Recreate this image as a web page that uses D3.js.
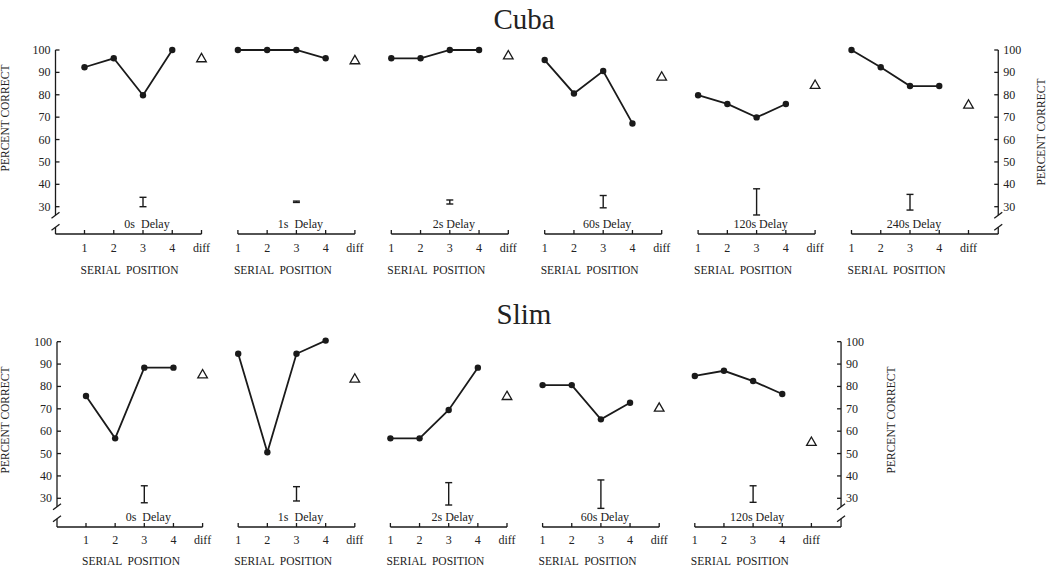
<!DOCTYPE html>
<html>
<head>
<meta charset="utf-8">
<script src="https://cdn.jsdelivr.net/npm/d3@7"></script>
<style>
  html, body { margin: 0; padding: 0; background: #fff; }
  svg { display: block; }
  text { font-family: "Liberation Serif", "Times New Roman", serif; fill: #222; }
</style>
</head>
<body>
<svg id="chart" width="1050" height="566"></svg>
<script>
// ---------------- DATA ----------------
const positions = ["1", "2", "3", "4", "diff"];
const yTicks = [30, 40, 50, 60, 70, 80, 90, 100];

const cubaDelays = ["0s  Delay", "1s  Delay", "2s Delay", "60s Delay", "120s Delay", "240s Delay"];
const cubaValues = [
  [92.3, 96.3, 79.8, 100],
  [100, 100, 100, 96.3],
  [96.3, 96.3, 100, 100],
  [95.5, 80.6, 90.6, 67.2],
  [79.8, 75.9, 69.9, 75.9],
  [100, 92.3, 83.9, 83.9]
];
const cubaDiff = [96.0, 95.1, 97.3, 87.8, 84.1, 75.3];
const cubaErr = [[30, 34.2], [31.9, 32.5], [31.2, 33.0], [29.5, 35.0], [26.3, 38.0], [28.5, 35.5]];

const slimDelays = ["0s  Delay", "1s  Delay", "2s Delay", "60s Delay", "120s Delay"];
const slimValues = [
  [75.7, 56.8, 88.4, 88.4],
  [94.6, 50.6, 94.6, 100.5],
  [56.8, 56.8, 69.5, 88.4],
  [80.6, 80.6, 65.3, 72.7],
  [84.7, 87.0, 82.4, 76.6]
];
const slimDiff = [85.1, 83.2, 75.4, 70.2, 54.9];
const slimErr = [[28.0, 35.6], [28.8, 35.2], [27.0, 37.0], [25.5, 38.2], [28.2, 35.6]];

// ---------------- LAYOUT ----------------
const rows = [
  { title: "Cuba", delays: cubaDelays, values: cubaValues, diff: cubaDiff, err: cubaErr,
    titleY: 29, yTop: 50, yBot: 206.7, axisY: 234, leftX: 55.5, firstTick: 84.5, panelStep: 153.4, tickStep: 29.25,
    labelY: 252, serialY: 274, delayY: 227.5, leftLabelY: 118, rightLabelY: 132, rightLabelX: 1045 },
  { title: "Slim", delays: slimDelays, values: slimValues, diff: slimDiff, err: slimErr,
    titleY: 324, yTop: 341.7, yBot: 498.3, axisY: 527, leftX: 57, firstTick: 86, panelStep: 152.2, tickStep: 29.15,
    labelY: 544, serialY: 565, delayY: 521, leftLabelY: 420, rightLabelY: 420, rightLabelX: 895 }
];

const svg = d3.select("#chart");
const ink = "#1a1a1a";

function breakMarks(g, x, yA, yB) {
  [yA, yB].forEach(yy => {
    g.append("line").attr("x1", x - 4).attr("y1", yy + 3).attr("x2", x + 4).attr("y2", yy - 3)
      .attr("stroke", ink).attr("stroke-width", 1.3);
  });
}

rows.forEach(row => {
  const g = svg.append("g");
  const y = d3.scaleLinear().domain([30, 100]).range([row.yBot, row.yTop]);
  const n = row.values.length;

  // title
  g.append("text").attr("x", 524).attr("y", row.titleY).attr("text-anchor", "middle")
    .style("font-size", "29px").text(row.title);

  const panelX = i => {
    const a = row.firstTick + i * row.panelStep;
    return d3.scalePoint().domain(positions).range([a, a + 4 * row.tickStep]);
  };
  const lastX = panelX(n - 1);
  const rightX = lastX("diff") + row.tickStep + 0.5;

  // y axes (left and right)
  const brkA = y(30) + 8.5, brkB = y(30) + 20.5;
  [[row.leftX, 1], [rightX, -1]].forEach(([ax, dir]) => {
    g.append("line").attr("x1", ax).attr("x2", ax).attr("y1", y(100)).attr("y2", brkA)
      .attr("stroke", ink).attr("stroke-width", 1.3);
    g.append("line").attr("x1", ax).attr("x2", ax).attr("y1", brkB).attr("y2", row.axisY)
      .attr("stroke", ink).attr("stroke-width", 1.3);
    breakMarks(g, ax, brkA, brkB);
    yTicks.forEach(t => {
      g.append("line").attr("x1", ax).attr("x2", ax + dir * 4).attr("y1", y(t)).attr("y2", y(t))
        .attr("stroke", ink).attr("stroke-width", 1.3);
      g.append("text").attr("x", dir > 0 ? ax - 5 : ax + 5).attr("y", y(t) + 4)
        .attr("text-anchor", dir > 0 ? "end" : "start")
        .style("font-size", "12px").text(t);
    });
  });

  // axis labels
  g.append("text").attr("transform", `translate(9,${row.leftLabelY}) rotate(-90)`)
    .attr("text-anchor", "middle").style("font-size", "11.5px").text("PERCENT CORRECT");
  g.append("text").attr("transform", `translate(${row.rightLabelX},${row.rightLabelY}) rotate(-90)`)
    .attr("text-anchor", "middle").style("font-size", "11.5px").text("PERCENT CORRECT");

  for (let i = 0; i < n; i++) {
    const x = panelX(i);
    const pg = g.append("g");
    const startX = i === 0 ? row.leftX : x("1");
    const endX = i === n - 1 ? rightX : x("diff");
    pg.append("line").attr("x1", startX).attr("x2", endX).attr("y1", row.axisY).attr("y2", row.axisY)
      .attr("stroke", ink).attr("stroke-width", 1.3);
    positions.forEach(p => {
      pg.append("line").attr("x1", x(p)).attr("x2", x(p)).attr("y1", row.axisY).attr("y2", row.axisY - 4)
        .attr("stroke", ink).attr("stroke-width", 1.3);
      pg.append("text").attr("x", x(p)).attr("y", row.labelY).attr("text-anchor", "middle")
        .style("font-size", "12px").text(p);
    });
    pg.append("text").attr("x", x("1") - 4).attr("y", row.serialY)
      .style("font-size", "11.5px").style("white-space", "pre")
      .text("SERIAL  POSITION");

    // delay label
    pg.append("text").attr("x", x("3") + 4).attr("y", row.delayY).attr("text-anchor", "middle")
      .style("font-size", "12px").style("white-space", "pre").text(row.delays[i]);

    // error bar
    const [lo, hi] = row.err[i];
    const ex = x("3");
    pg.append("line").attr("x1", ex).attr("x2", ex).attr("y1", y(lo)).attr("y2", y(hi))
      .attr("stroke", ink).attr("stroke-width", 1.4);
    [lo, hi].forEach(v => pg.append("line").attr("x1", ex - 3.5).attr("x2", ex + 3.5)
      .attr("y1", y(v)).attr("y2", y(v)).attr("stroke", ink).attr("stroke-width", 1.4));

    // line + points
    const pts = row.values[i].map((v, k) => [x(positions[k]), y(v)]);
    pg.append("path").attr("d", d3.line()(pts)).attr("fill", "none")
      .attr("stroke", ink).attr("stroke-width", 1.8);
    pg.selectAll("circle").data(pts).join("circle")
      .attr("cx", d => d[0]).attr("cy", d => d[1]).attr("r", 3.2).attr("fill", ink);

    // diff triangle
    pg.append("path").attr("d", d3.symbol(d3.symbolTriangle, 40)())
      .attr("transform", `translate(${x("diff")},${y(row.diff[i])})`)
      .attr("fill", "#fff").attr("stroke", ink).attr("stroke-width", 1.3);
  }
});
</script>
</body>
</html>
